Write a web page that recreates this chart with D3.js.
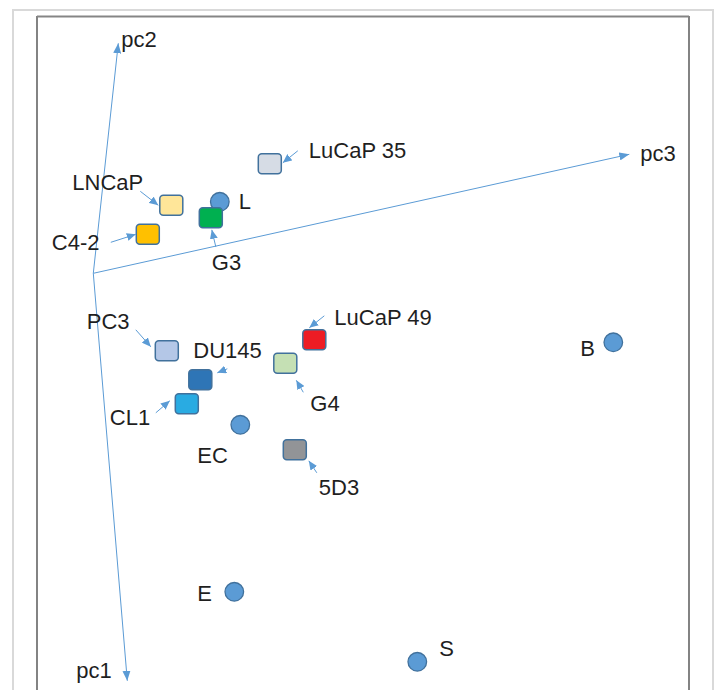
<!DOCTYPE html>
<html>
<head>
<meta charset="utf-8">
<script src="https://cdn.jsdelivr.net/npm/d3@7"></script>
<style>
  html, body { margin: 0; padding: 0; background: #ffffff; }
  svg { display: block; }
  text { font-family: "Liberation Sans", Arial, sans-serif; fill: #1f1f1f; }
</style>
</head>
<body>
<svg id="chart" width="716" height="690"></svg>
<script>
// Projection of samples onto the first principal components (arbitrary units, origin = centroid)
const sampleNames = ["L", "E", "S", "B", "EC", "LuCaP 35", "LNCaP", "G3", "C4-2", "PC3", "DU145", "CL1", "G4", "LuCaP 49", "5D3"];
const sampleX     = [2.53, 2.82, 6.48, 10.40, 2.94, 3.53, 1.56, 2.35, 1.09, 1.47, 2.14, 1.87, 3.84, 4.42, 4.03];
const sampleY     = [1.43, -6.37, -7.77, -1.38, -3.03, 2.19, 1.36, 1.11, 0.78, -1.55, -2.13, -2.61, -1.80, -1.33, -3.53];
const sampleKind  = ["tissue", "tissue", "tissue", "tissue", "tissue",
                     "model", "model", "model", "model", "model", "model", "model", "model", "model", "model"];

// Loading directions of the principal-component axes
const axisNames = ["pc1", "pc2", "pc3"];
const axisX     = [0.68, 0.50, 10.72];
const axisY     = [-8.15, 4.60, 2.38];

// Fill for each cell-line / xenograft marker
const modelFill = {
  "LuCaP 35": "#d6dce5", "LNCaP": "#ffe699", "G3": "#00b050", "C4-2": "#ffc000",
  "PC3": "#b4c7e7", "DU145": "#2e75b6", "CL1": "#29abe2", "G4": "#c5e0b4",
  "LuCaP 49": "#ed1c24", "5D3": "#929497"
};

// Label placement relative to each marker: text start/baseline and optional pointer arrow
const labelLayout = {
  "L":        { tx: 19, ty: 7 },
  "E":        { tx: -37, ty: 9 },
  "S":        { tx: 22, ty: -6 },
  "B":        { tx: -33, ty: 14 },
  "EC":       { tx: -43, ty: 38 },
  "LuCaP 35": { tx: 39, ty: -6, a: [28, -13, 13, -1] },
  "LNCaP":    { tx: -99, ty: -15, a: [-31, -14, -13, 0] },
  "G3":       { tx: 1, ty: 52, a: [5, 29, 1, 12] },
  "C4-2":     { tx: -96, ty: 16, a: [-37, 8, -12, 0] },
  "PC3":      { tx: -80, ty: -22, a: [-31, -21, -16, -4] },
  "DU145":    { tx: -7, ty: -22, a: [27, -11, 17, -7] },
  "CL1":      { tx: -77, ty: 21, a: [-31, 9, -17, -3] },
  "G4":       { tx: 25, ty: 48, a: [18, 29, 11, 17] },
  "LuCaP 49": { tx: 20, ty: -15, a: [10, -24, -5, -12] },
  "5D3":      { tx: 24, ty: 45, a: [22, 23, 14, 11] }
};
const axisLabelLayout = {
  "pc1": { tx: -51, ty: -3 },
  "pc2": { tx: 3, ty: 4 },
  "pc3": { tx: 11, ty: 7 }
};

const W = 716, H = 690;
const frame = { left: 37, right: 689, top: 16.5, bottom: 700 };

const x = d3.scaleLinear().domain([-1.126, 11.914]).range([frame.left, frame.right]);
const y = d3.scaleLinear().domain([-8.334, 5.136]).range([690, frame.top]);

const svg = d3.select("#chart");
const blue = "#5b9bd5";
const edge = "#41719c";
const fontSize = 22;

const defs = svg.append("defs");
function arrowMarker(id, len, wid) {
  defs.append("marker")
    .attr("id", id)
    .attr("viewBox", `0 ${-wid / 2} ${len} ${wid}`)
    .attr("refX", len).attr("refY", 0)
    .attr("markerUnits", "userSpaceOnUse")
    .attr("markerWidth", len).attr("markerHeight", wid)
    .attr("orient", "auto")
    .append("path")
    .attr("d", `M0,${-wid / 2}L${len},0L0,${wid / 2}Z`)
    .attr("fill", blue);
}
arrowMarker("axisHead", 10, 8);
arrowMarker("ptrHead", 9, 8);

// Outer page border and plot frame
svg.append("rect")
  .attr("x", 13).attr("y", 10).attr("width", 700).attr("height", 700)
  .attr("fill", "none").attr("stroke", "#d9d9d9").attr("stroke-width", 2);
svg.append("path")
  .attr("d", `M${frame.left},${H + 5}V${frame.top}H${frame.right}V${H + 5}`)
  .attr("fill", "none").attr("stroke", "#333333").attr("stroke-width", 1.2);
svg.append("line")
  .attr("x1", frame.left).attr("x2", frame.right)
  .attr("y1", frame.top).attr("y2", frame.top)
  .attr("stroke", "#858585").attr("stroke-width", 2);

// Principal-component axes drawn from the origin
const axes = axisNames.map((n, i) => ({ name: n, x: axisX[i], y: axisY[i] }));
const gAxes = svg.append("g");
gAxes.selectAll("line").data(axes).join("line")
  .attr("x1", x(0)).attr("y1", y(0))
  .attr("x2", d => x(d.x)).attr("y2", d => y(d.y))
  .attr("stroke", blue).attr("stroke-width", 1)
  .attr("marker-end", "url(#axisHead)");
gAxes.selectAll("text").data(axes).join("text")
  .attr("x", d => x(d.x) + axisLabelLayout[d.name].tx)
  .attr("y", d => y(d.y) + axisLabelLayout[d.name].ty)
  .attr("font-size", fontSize)
  .text(d => d.name);

// Samples
const samples = sampleNames.map((n, i) => ({ name: n, x: sampleX[i], y: sampleY[i], kind: sampleKind[i] }));

const gMarks = svg.append("g");
gMarks.selectAll("circle").data(samples.filter(d => d.kind === "tissue")).join("circle")
  .attr("cx", d => x(d.x)).attr("cy", d => y(d.y)).attr("r", 9.3)
  .attr("fill", blue).attr("stroke", edge).attr("stroke-width", 1.3);

const sw = 23, sh = 20;
gMarks.selectAll("rect").data(samples.filter(d => d.kind === "model")).join("rect")
  .attr("x", d => x(d.x) - sw / 2).attr("y", d => y(d.y) - sh / 2)
  .attr("width", sw).attr("height", sh).attr("rx", 3.5)
  .attr("fill", d => modelFill[d.name]).attr("stroke", edge).attr("stroke-width", 1.5);

// Pointer arrows from labels to markers
const withArrow = samples.filter(d => labelLayout[d.name].a);
svg.append("g").selectAll("line").data(withArrow).join("line")
  .attr("x1", d => x(d.x) + labelLayout[d.name].a[0])
  .attr("y1", d => y(d.y) + labelLayout[d.name].a[1])
  .attr("x2", d => x(d.x) + labelLayout[d.name].a[2])
  .attr("y2", d => y(d.y) + labelLayout[d.name].a[3])
  .attr("stroke", blue).attr("stroke-width", 1)
  .attr("marker-end", "url(#ptrHead)");

// Sample labels
svg.append("g").selectAll("text").data(samples).join("text")
  .attr("x", d => x(d.x) + labelLayout[d.name].tx)
  .attr("y", d => y(d.y) + labelLayout[d.name].ty)
  .attr("font-size", fontSize)
  .text(d => d.name);
</script>
</body>
</html>
